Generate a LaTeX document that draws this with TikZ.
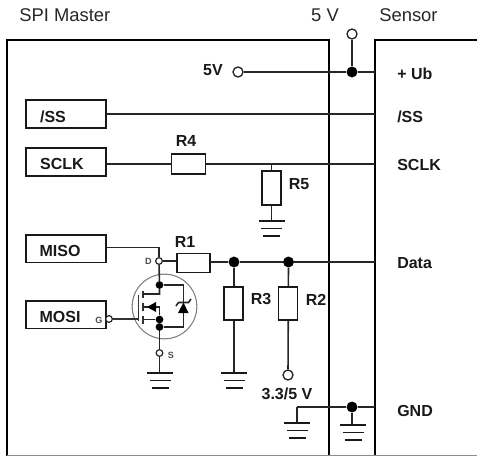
\documentclass[tikz,border=0pt]{standalone}
\usepackage{fontspec}
\setmainfont{Liberation Sans}
\begin{document}
\begin{tikzpicture}[x=0.75pt,y=-0.75pt,
  wire/.style={line width=1.2pt,draw=black!85},
  thin wire/.style={line width=0.85pt,draw=black!80},
  frame/.style={line width=1.7pt,draw=black},
  iobox/.style={draw=black!90,line width=1.3pt,minimum width=60pt,minimum height=20.8pt,inner sep=0pt,anchor=center},
  res/.style={draw=black!90,line width=1.2pt,fill=white,inner sep=0pt},
  term/.style={circle,draw=black!85,line width=1pt,fill=white,minimum size=7.5pt,inner sep=0pt},
  sterm/.style={circle,draw=black!85,line width=0.9pt,fill=white,minimum size=5pt,inner sep=0pt},
  jun/.style={circle,fill=black,minimum size=8.2pt,inner sep=0pt},
  sjun/.style={circle,fill=black,minimum size=5.8pt,inner sep=0pt},
  lab/.style={font=\bfseries\fontsize{12}{13}\selectfont,inner sep=0pt,text=black!90},
  head/.style={font=\fontsize{13.8}{15}\selectfont,inner sep=0pt,text=black!85},
  tiny/.style={font=\bfseries\fontsize{6.8}{7}\selectfont,text=black!70,inner sep=0pt}]
\useasboundingbox (0,0) rectangle (477,456);
\newcommand{\gnd}[2]{\draw[line width=1.2pt,black!90] (#1-13,#2) -- (#1+13,#2) (#1-10.5,#2+7.5) -- (#1+10.5,#2+7.5) (#1-8.5,#2+15) -- (#1+8.5,#2+15);}
% frames
\draw[frame] (7,456) -- (7,40) -- (329,40) -- (329,456);
\draw[frame] (375,456) -- (375,40) -- (477,40);
\draw[line width=0.75pt,black!45] (7,455.5) -- (477,455.5);
% headings
\node[head,anchor=west] (hm) at (19,15) {SPI Master};
\node[head] (hv) at (325,15) {5 V};
\node[head,anchor=west] (hs) at (379,15) {Sensor};
% io boxes
\node[iobox] (ss) at (66,114) {};
\node[iobox] (sclk) at (66,162) {};
\node[iobox] (miso) at (66,248.5) {};
\node[iobox] (mosi) at (66,314.5) {};
\node[lab] (tss) at (53,116.5) {/SS};
\node[lab] (tsc) at (62,164) {SCLK};
\node[lab] (tmi) at (60,251) {MISO};
\node[lab] (tmo) at (60,317) {MOSI};
% sensor labels
\node[lab,anchor=west] (lub) at (397,74) {+ Ub};
\node[lab,anchor=west] (lss) at (397,116.5) {/SS};
\node[lab,anchor=west] (lsc) at (397,165) {SCLK};
\node[lab,anchor=west] (lda) at (397,263) {Data};
\node[lab,anchor=west] (lgn) at (397,411) {GND};
% coordinates
\coordinate (eub) at (375,72);
\coordinate (ess) at (375,114);
\coordinate (esc) at (375,164);
\coordinate (eda) at (375,262);
\coordinate (egn) at (375,407);
% 5V
\node[term] (t5i) at (238,72) {};
\node[term] (t5o) at (352,34) {};
\node[jun] (j5) at (352,72) {};
\node[lab] (l5) at (213,70.5) {5V};
\draw[wire] (t5i) -- (j5) -- (eub);
\draw[wire] (t5o) -- (j5);
% SS
\draw[wire] (ss.east |- ess) -- (ess);
% SCLK
\node[res,minimum width=25.5pt,minimum height=15pt] (r4) at (188.5,164) {};
\node[lab] (lr4) at (186,141) {R4};
\draw[wire] (sclk.east |- r4) -- (r4);
\draw[wire] (r4) -- (esc);
\node[res,minimum width=14.5pt,minimum height=25.5pt] (r5) at (271.5,188) {};
\node[lab] (lr5) at (299,184) {R5};
\coordinate (t5) at (271.5,164);
\coordinate (g5) at (271.5,221);
\draw[wire] (t5) -- (r5);
\draw[wire] (r5) -- (g5);
\gnd{271.5}{221}
% Data
\node[sterm] (d) at (159,261) {};
\node[res,minimum width=25pt,minimum height=14.5pt] (r1) at (193.5,263) {};
\node[lab] (lr1) at (185,242) {R1};
\node[jun] (j1) at (234,262) {};
\node[jun] (j2) at (288.5,262) {};
\draw[wire] (miso.east |- 0,247.5) -- (159,247.5) -- (d);
\draw[wire] (d) -- (r1.west |- d);
\draw[wire] (r1.east |- j1) -- (j1) -- (j2) -- (eda);
\coordinate (g3) at (234,373);
\node[term] (t33) at (288,375) {};
\draw[wire] (j1) -- (g3);
\draw[wire] (j2) -- (t33);
\node[res,minimum width=14.5pt,minimum height=25pt] (r3) at (233.5,303.5) {};
\node[res,minimum width=14.5pt,minimum height=25pt] (r2) at (288,303.5) {};
\node[lab] (lr3) at (261,299.5) {R3};
\node[lab] (lr2) at (316,299.5) {R2};
\gnd{234}{373}
\node[lab] (l33) at (287,393.5) {3.3/5 V};
% GND
\node[jun] (jg) at (352,407) {};
\coordinate (gl) at (297,407);
\coordinate (gl2) at (297,423);
\coordinate (gr2) at (352,425);
\draw[wire] (gl) -- (jg) -- (egn);
\draw[wire] (gl) -- (gl2);
\draw[wire] (jg) -- (gr2);
\gnd{297}{423}
\gnd{353}{425}
% MOSFET
\node[circle,draw=black!50,line width=0.8pt,minimum size=48.5pt,inner sep=0pt] (fet) at (164.5,306.5) {};
\node[sterm] (g) at (109,319) {};
\node[sterm] (s) at (159.5,353) {};
\node[tiny] (ld) at (148.5,261.5) {D};
\node[tiny] (lg) at (99,320) {G};
\node[tiny] (ls) at (171,355) {S};
\node[sjun] (a) at (159.5,285) {};
\node[sjun] (b) at (159.5,319.5) {};
\node[sjun] (c) at (159.5,327) {};
\coordinate (drn) at (159.5,294);
\coordinate (mid) at (159.5,307);
\coordinate (gat) at (138.5,319);
\draw[thin wire] (g) -- (gat);
\draw[thin wire] (138.5,295) -- (138.5,321);
\draw[thin wire] (143,290.5) -- (143,298) (143,303) -- (143,311) (143,316) -- (143,323.5);
\draw[wire] (d) -- (a) -- (drn) -- (143,294);
\draw[wire] (143,307) -- (mid) -- (b) -- (c) -- (s);
\draw[wire] (143,319.5) -- (b);
\fill[black] (147,307) -- (156,302) -- (156,312) -- cycle;
\draw[wire] (a) -- (183.5,285) -- (183.5,327) -- (c);
\fill[black] (183.5,302.5) -- (188.5,313) -- (178,313) -- cycle;
\draw[wire] (176,306) -- (178.5,302.5) -- (188.5,302.5) -- (191,299);
\coordinate (gs) at (159.5,373);
\draw[wire] (s) -- (gs);
\gnd{160}{373}
\end{tikzpicture}
\end{document}
